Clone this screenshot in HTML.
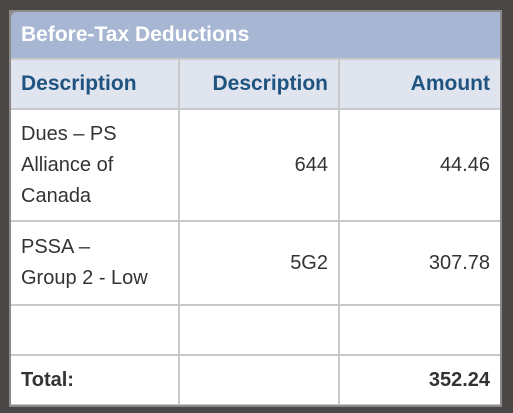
<!DOCTYPE html>
<html><head><meta charset="utf-8"><style>
body{margin:0;width:513px;height:413px;background:#4b4747;position:relative;overflow:hidden;font-family:"Liberation Sans",sans-serif}
#frame{position:absolute;left:9px;top:10px;width:493px;height:397px;background:#8d8a8a}
#box{position:absolute;left:11px;top:12px;width:489px;height:393px;background:#fff;border-top-left-radius:6px;overflow:hidden}
#title{position:absolute;left:0;top:0;width:489px;height:46px;background:#a7b6d2;color:#fff;font-weight:bold;font-size:21px;line-height:46px;padding-left:10px;box-sizing:border-box}
table{position:absolute;left:0;top:46px;width:489px;border-collapse:collapse;font-size:20px;color:#333}
td,th{border:2px solid #c9c9c9;padding:0 10px;vertical-align:middle}
tr>*:first-child{border-left:none}tr>*:last-child{border-right:none}
th{background:#e0e4ef;color:#1f5480;height:48px;font-size:21px}
.r{text-align:right}.l{text-align:left}
</style></head><body>
<div id="frame"></div>
<div id="box">
<div id="title">Before-Tax Deductions</div>
<table>
<colgroup><col style="width:168px"><col style="width:160px"><col></colgroup>
<tr><th class="l">Description</th><th class="r">Description</th><th class="r">Amount</th></tr>
<tr style="height:112px"><td style="line-height:31px">Dues – PS Alliance of Canada</td><td class="r">644</td><td class="r">44.46</td></tr>
<tr style="height:84px"><td style="line-height:31px">PSSA –<br>Group 2 - Low</td><td class="r">5G2</td><td class="r">307.78</td></tr>
<tr style="height:50px"><td></td><td></td><td></td></tr>
<tr style="height:50px"><td style="font-weight:bold">Total:</td><td></td><td class="r" style="font-weight:bold">352.24</td></tr>
</table>
</div>
</body></html>
